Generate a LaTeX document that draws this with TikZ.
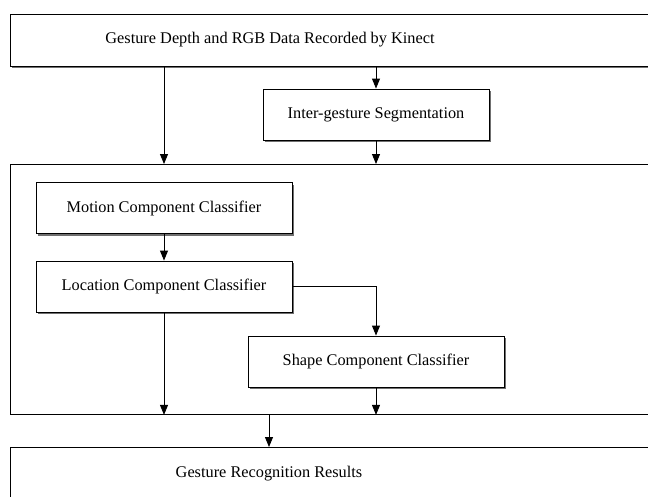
\documentclass[tikz,border=0pt]{standalone}
\usepackage{fontspec}
\setmainfont{Liberation Serif}
\usetikzlibrary{arrows.meta, positioning, shadows}

\begin{document}
\begin{tikzpicture}[x=1pt, y=-1pt,
    font=\fontsize{16.3}{19}\selectfont,
    shade box/.style={drop shadow={shadow xshift=2pt, shadow yshift=-2pt,
        fill=black!70, opacity=0.8}},
    frame/.style={draw, line width=0.9pt, fill=white, anchor=north west,
      inner sep=0pt},
    stage/.style={draw, line width=0.9pt, fill=white, minimum width=256pt,
      minimum height=51pt, inner sep=2pt, shade box},
    flow/.style={line width=0.9pt, -{Triangle[length=10pt, width=8pt]}}]
  \clip (0,0) rectangle (648,496);
  % outer frames (run past the right edge of the figure)
  \node[frame, shade box, minimum width=650pt, minimum height=52pt] (kinect) at (10,14) {};
  \node[frame, minimum width=650pt, minimum height=250pt] (classifiers) at (10,164) {};
  \node[frame, minimum width=650pt, minimum height=60pt] (results) at (10,447) {};
  \node (kinecttxt) at (270,40) {Gesture Depth and RGB Data Recorded by Kinect};
  \node (resultstxt) at (269,474) {Gesture Recognition Results};
  % processing stages
  \node[stage, minimum width=226pt] (segment) at (376,114.5) {Inter-gesture Segmentation};
  \node[stage] (motion) at (164,208) {Motion Component Classifier};
  \node[stage] (location) at (164,286.5) {Location Component Classifier};
  \node[stage] (shape) at (376,361.5) {Shape Component Classifier};
  % connectors
  \draw[flow] (kinect.south -| motion) -- (classifiers.north -| motion);
  \draw[flow] (kinect.south -| segment) -- (segment);
  \draw[flow] (segment) -- (classifiers.north -| segment);
  \draw[flow] (motion) -- (location);
  \draw[flow] (location.east) -| (shape.north);
  \draw[flow] (location) -- (classifiers.south -| location);
  \draw[flow] (shape) -- (classifiers.south -| shape);
  \draw[flow] (classifiers.south -| resultstxt) -- (results.north -| resultstxt);
\end{tikzpicture}
\end{document}
